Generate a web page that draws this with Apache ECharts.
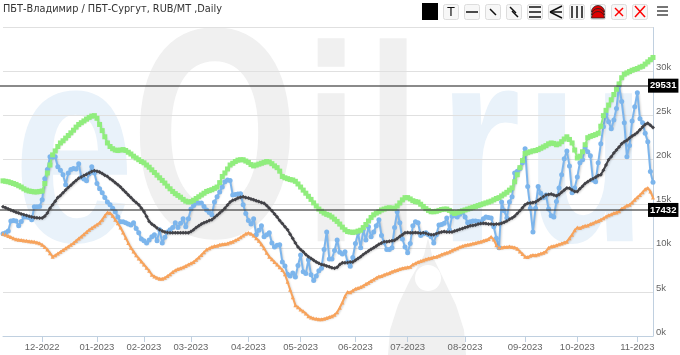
<!DOCTYPE html>
<html>
<head>
<meta charset="utf-8">
<style>
  html, body { margin: 0; padding: 0; background: #fff; }
  #main { width: 680px; height: 355px; }
</style>
<script src="https://cdn.jsdelivr.net/npm/echarts@6/dist/echarts.min.js"></script>
</head>
<body>
<div id="main"></div>
<script>
// index of each month tick along the trading days
const tickIndex = [15, 36, 54, 72, 94, 114, 135, 155, 177, 200, 220, 243];
const tickLabels = ["12-2022", "01-2023", "02-2023", "03-2023", "04-2023", "05-2023", "06-2023", "07-2023", "08-2023", "09-2023", "10-2023", "11-2023"];

const spread = [
  11600,11700,11900,13050,13100,13050,12500,13000,13500,13500,
  13450,13200,14660,14650,14700,15450,17850,18900,20350,20300,
  20350,19200,18800,18300,17150,18500,18900,19000,18950,19550,
  18000,17800,17600,18400,19200,18500,17300,16700,16250,15700,
  15200,14900,14500,14100,13500,12950,12950,12850,12700,12600,
  12850,12200,11700,11000,10800,10550,10900,11250,11500,10800,
  12050,10550,11200,11800,12050,12300,12850,12300,12800,13300,
  12400,13300,14400,14800,15100,15100,15100,14700,14300,14000,
  13750,15200,15800,16350,16900,17500,17700,17650,16000,16050,
  16100,16150,14900,13900,13100,12700,13300,11500,12000,12500,
  11250,11500,11700,10550,10100,10300,10350,8400,7950,7000,
  6800,7150,6700,8000,9200,7300,7100,8650,6950,6300,
  6800,7400,7700,9800,11800,8750,8750,9700,10900,9500,
  9300,9550,8400,7900,8900,10500,11700,10000,12050,10900,
  12400,11250,11800,12500,13200,11400,10600,9800,9800,10000,
  12300,14100,12850,11000,10100,9450,10500,12500,12950,12850,
  11400,11600,11700,11500,11250,10550,11500,12600,12650,12800,
  13400,12050,13600,13700,13500,13800,14100,13500,12850,12950,
  13050,13050,13000,12950,13300,13500,13450,13400,12400,11100,
  10000,15200,14200,13400,15200,15800,18500,18700,19000,19650,
  21250,16950,14500,11800,14500,16950,16200,15700,16000,14400,
  13650,13500,15250,16800,18300,20100,21000,19300,16250,16800,
  18050,19650,20000,21350,20900,20450,17700,17500,19650,21800,
  23750,25200,24300,23500,24500,25800,28400,26600,24200,20350,
  21600,24400,26000,27600,24650,24200,23000,22050,18650,17432
];
const average = [
  14660,14550,14420,14300,14180,14050,13950,13850,13750,13680,
  13580,13500,13450,13420,13400,13400,13600,13950,14500,14900,
  15300,15700,15950,16250,16550,16850,17100,17400,17650,17900,
  18050,18200,18350,18500,18650,18750,18700,18600,18450,18250,
  18100,17850,17650,17400,17150,16900,16600,16300,16000,15700,
  15400,15150,14900,14500,14100,13550,13000,12700,12500,12250,
  12050,11900,11800,11750,11700,11700,11700,11700,11700,11700,
  11700,11700,11850,12050,12300,12500,12700,12850,12950,13100,
  13200,13450,13700,13950,14200,14500,14850,15200,15400,15500,
  15650,15750,15800,15700,15650,15550,15450,15350,15250,15150,
  15050,14800,14500,14200,13850,13500,13100,12750,12400,12050,
  11550,11050,10550,10100,9800,9550,9250,9000,8800,8600,
  8400,8250,8100,8050,7950,7850,7750,7700,7800,8100,
  8300,8300,8350,8400,8400,8600,8800,9000,9250,9450,
  9650,9850,10000,10200,10400,10550,10700,10700,10750,10800,
  10850,11050,11300,11500,11700,11750,11700,11700,11750,11700,
  11650,11700,11650,11550,11500,11500,11600,11700,11800,11850,
  11800,11800,11800,11900,12000,12100,12200,12300,12400,12500,
  12550,12600,12700,12750,12800,12750,12700,12700,12650,12700,
  12700,12800,12900,13050,13250,13400,13600,13900,14200,14550,
  14900,15050,15100,15150,15200,15400,15600,15800,16000,16050,
  16100,16000,15900,16050,16300,16550,16800,16750,16550,16400,
  16400,16700,17000,17300,17500,17700,17850,18000,18200,18300,
  18800,19400,20000,20350,20750,21100,21450,21800,22050,22200,
  22450,22700,22850,23100,23400,23700,24000,24150,23900,23650
];
const upper = [
  17600,17550,17500,17400,17300,17200,17050,16900,16700,16550,
  16450,16400,16350,16350,16400,16450,17300,18500,19400,20550,
  21000,21500,21900,22150,22450,22750,23050,23350,23700,24000,
  24200,24400,24600,24800,24950,25000,24700,24000,23300,22600,
  21900,21500,21250,21100,21050,21100,21150,21050,20850,20650,
  20400,20200,20000,19800,19650,19400,19150,18850,18550,18250,
  17950,17650,17350,17000,16700,16400,16150,15950,15750,15500,
  15300,15200,15250,15400,15600,15800,16000,16200,16400,16500,
  16600,16750,16900,17400,18100,18500,18950,19400,19600,19800,
  19950,20000,20000,19850,19700,19450,19300,19400,19500,19600,
  19700,19800,19750,19550,19300,19100,18700,18100,17950,17850,
  17750,17700,17550,17250,16900,16550,16200,15850,15500,15100,
  14750,14400,14150,13950,13800,13700,13500,13250,13000,12700,
  12350,12050,11850,11800,11750,11800,11900,12000,12300,12650,
  13050,13450,13750,13950,14100,14300,14400,14500,14550,14500,
  14500,14750,15100,15450,15700,15700,15550,15350,15250,15200,
  14950,14700,14450,14250,14100,14100,14150,14250,14350,14400,
  14400,14250,14050,13900,14000,14100,14200,14300,14400,14500,
  14600,14700,14800,14900,15000,15100,15200,15300,15450,15600,
  15700,15900,16100,16300,16550,16800,17500,18300,19100,19900,
  20700,20800,20900,21000,21050,21150,21300,21450,21600,21800,
  21900,21850,21700,21800,22050,22350,22600,22300,21900,21100,
  20200,20400,20900,21700,22500,22650,22750,22850,23000,23800,
  25000,25600,26200,26800,27400,28000,28600,29300,29700,29850,
  30000,30150,30250,30350,30500,30600,30850,31100,31350,31600
];
const lower = [
  11600,11480,11350,11220,11080,10980,10930,10880,10830,10800,
  10760,10720,10680,10620,10520,10350,10100,9800,9400,9000,
  9150,9350,9550,9750,9950,10150,10350,10550,10800,11050,
  11300,11550,11800,12050,12250,12450,12650,12850,13200,13650,
  14000,13950,13650,13200,12800,12300,11750,11150,10550,10000,
  9600,9150,8800,8450,8100,7750,7400,6950,6750,6600,
  6500,6500,6600,6800,7000,7250,7450,7600,7700,7800,
  7950,8100,8250,8400,8650,8900,9200,9500,9800,9950,
  10100,10200,10250,10350,10400,10450,10500,10600,10700,10850,
  11000,11200,11400,11600,11700,11600,11400,11100,10800,10400,
  9950,9450,9000,8700,8400,8100,7800,7500,7000,6150,
  5250,4400,3500,3250,3000,2800,2550,2250,2100,2000,
  1950,1900,1900,1950,2050,2150,2250,2400,2700,3200,
  3800,4500,5000,4950,5150,5350,5450,5550,5700,5900,
  6050,6250,6400,6600,6750,6800,6950,7050,7150,7300,
  7400,7500,7600,7700,7750,7800,7850,8100,8250,8400,
  8500,8600,8700,8800,8850,8950,9000,9100,9250,9350,
  9450,9550,9700,9850,9950,10100,10200,10300,10350,10400,
  10500,10550,10650,10700,10800,10900,11000,11250,10950,10300,
  10050,10050,10100,10100,10150,10100,10050,9900,9600,9300,
  9000,8950,9100,9200,9150,9250,9350,9450,9600,10000,
  10150,10200,10300,10400,10500,10600,10700,11100,11500,12000,
  12300,12250,12400,12500,12550,12700,12800,12950,13050,13200,
  13350,13550,13700,13800,13950,14000,14150,14450,14600,14800,
  14900,15150,15450,15750,16000,16300,16650,16800,16400,15700
];

// the two level lines sit where the axis puts these values, their tags read otherwise
const levelValues = [28400, 14300];
const levelLabels = ["29531", "17432"];

const categories = spread.map((v, i) => i);
const font = "Liberation Sans";

// background logo
function mark(text, x, color, size, scale) {
  return {
    type: "text", x: x, y: 304, z: -5, silent: true, scaleX: scale,
    style: { text: text, fill: color, font: "bold " + size + "px 'Liberation Sans'", verticalAlign: "bottom" }
  };
}
const logo = [
  mark("e", 13, "#e9f2fa", 280, 0.78),
  mark("O", 131, "#f0f0f0", 300, 0.72),
  mark("i", 304, "#f0f0f0", 280, 0.7),
  mark("l", 366, "#f0f0f0", 280, 0.7),
  mark("r", 438, "#e9f2fa", 280, 0.76),
  mark("u", 526, "#e9f2fa", 280, 0.7),
  {
    type: "polygon", z: -5, silent: true,
    shape: { points: [[428, 238], [432, 255], [444, 280], [456, 305], [464, 330], [466, 355], [388, 355], [390, 330], [398, 305], [410, 280], [424, 255]] },
    style: { fill: "#f0f0f0" }
  },
  { type: "circle", z: -4, silent: true, shape: { cx: 428, cy: 278, r: 13 }, style: { fill: "#fff" } }
];

// toolbar
const btnLeft = 443, btnStep = 21, btnW = 15, btnTop = 4, btnH = 15;
function seg(x1, y1, x2, y2, color, w) {
  return { type: "line", z: 11, silent: true, shape: { x1, y1, x2, y2 }, style: { stroke: color || "#111", lineWidth: w || 1.5 } };
}
function dome(cx, cy) {
  return {
    type: "sector", z: 11, silent: true,
    shape: { cx: cx, cy: cy, r: 6.5, startAngle: Math.PI, endAngle: 2 * Math.PI },
    style: { fill: "#e00000", stroke: "#222", lineWidth: 0.8 }
  };
}
const toolbar = [
  { type: "rect", z: 10, silent: true, shape: { x: 422, y: 3, width: 16, height: 17 }, style: { fill: "#000" } }
];
for (let i = 0; i < 10; i++) {
  toolbar.push({
    type: "rect", z: 10, silent: true,
    shape: { x: btnLeft + i * btnStep + 0.5, y: btnTop + 0.5, width: btnW, height: btnH, r: 2 },
    style: { fill: "#f7f7f7", stroke: "#ddd", lineWidth: 1 }
  });
}
const ix = (i) => btnLeft + i * btnStep;
toolbar.push(
  { type: "text", z: 11, silent: true, x: ix(0) + 8, y: 12, style: { text: "T", fill: "#111", font: "13px 'Liberation Sans'", align: "center", verticalAlign: "middle" } },
  seg(ix(1) + 2, 12, ix(1) + 14, 12),
  seg(ix(2) + 5, 9, ix(2) + 11, 15),
  seg(ix(3) + 4, 7, ix(3) + 10, 13), seg(ix(3) + 6, 11, ix(3) + 12, 17),
  seg(ix(4) + 2, 7, ix(4) + 14, 7), seg(ix(4) + 2, 12, ix(4) + 14, 12), seg(ix(4) + 2, 17, ix(4) + 14, 17),
  seg(ix(5) + 2, 12, ix(5) + 14, 6), seg(ix(5) + 2, 12, ix(5) + 14, 12), seg(ix(5) + 2, 12, ix(5) + 14, 18),
  seg(ix(6) + 3, 6, ix(6) + 3, 18), seg(ix(6) + 8, 6, ix(6) + 8, 18), seg(ix(6) + 13, 6, ix(6) + 13, 18),
  dome(ix(7) + 8, 12), dome(ix(7) + 8, 15), dome(ix(7) + 8, 18),
  seg(ix(8) + 4, 8, ix(8) + 12, 16, "#f00", 1.5), seg(ix(8) + 12, 8, ix(8) + 4, 16, "#f00", 1.5),
  seg(ix(9) + 3, 6, ix(9) + 13, 17, "#f00", 1.5), seg(ix(9) + 13, 6, ix(9) + 3, 17, "#f00", 1.5),
  seg(657, 7, 668, 7, "#666", 1.8), seg(657, 11, 668, 11, "#666", 1.8), seg(657, 15, 668, 15, "#666", 1.8),
  // level lines run a little past the plot on the left
  seg(0, 86, 3, 86, "rgba(60,60,60,0.6)", 2), seg(0, 210, 3, 210, "rgba(60,60,60,0.6)", 2)
);

function lineSeries(data, color, symbol, size, width) {
  return {
    type: "line",
    data: data,
    symbol: symbol,
    symbolSize: size,
    showAllSymbol: true,
    silent: true,
    lineStyle: { color: color, width: width, shadowColor: "rgba(0,0,0,0.18)", shadowBlur: 2, shadowOffsetX: 1, shadowOffsetY: 1 },
    itemStyle: { color: color }
  };
}

const chart = echarts.init(document.getElementById("main"), null, { renderer: "canvas" });
const series = [
  lineSeries(spread, "#7cb5ec", "circle", 5, 2),
  lineSeries(average, "#434348", "diamond", 4, 2),
  lineSeries(upper, "#90ed7d", "rect", 5, 2),
  lineSeries(lower, "#f7a35c", "triangle", 4, 2)
];
series[3].markLine = {
  silent: true,
  symbol: "none",
  animation: false,
  lineStyle: { color: "rgba(60,60,60,0.6)", width: 2, type: "solid" },
  label: {
    position: "end",
    distance: -5,
    formatter: (p) => levelLabels[p.dataIndex],
    color: "#fff",
    backgroundColor: "#000",
    padding: [2, 2, 2, 2],
    fontFamily: font,
    fontSize: 9.5,
    fontWeight: "bold"
  },
  data: levelValues.map((v) => ({ yAxis: v }))
};

chart.setOption({
  animation: false,
  backgroundColor: "#fff",
  title: {
    text: "ПБТ-Владимир / ПБТ-Сургут, RUB/MT ,Daily",
    left: 3,
    top: 4,
    padding: 0,
    textStyle: { fontFamily: "DejaVu Sans", fontSize: 9.75, fontWeight: "normal", color: "#333" }
  },
  grid: { left: 3, right: 27, top: 27.5, bottom: 19 },
  xAxis: {
    type: "category",
    data: categories,
    boundaryGap: false,
    axisLine: { lineStyle: { color: "#c0d0e0" } },
    axisTick: { alignWithLabel: true, length: 6, interval: (i) => tickIndex.includes(i), lineStyle: { color: "#c0d0e0" } },
    axisLabel: {
      interval: (i) => tickIndex.includes(i),
      formatter: (v, i) => tickLabels[tickIndex.indexOf(i)] || "",
      color: "#666",
      fontFamily: font,
      fontSize: 9.5,
      margin: 6
    },
    splitLine: { show: false }
  },
  yAxis: {
    type: "value",
    position: "right",
    min: 0,
    max: 35000,
    interval: 5000,
    axisLine: { show: true, lineStyle: { color: "#c0d0e0" } },
    axisTick: { show: false },
    axisLabel: {
      formatter: (v) => (v === 35000 ? "" : v / 1000 + "k"),
      color: "#666",
      fontFamily: font,
      fontSize: 9.5,
      margin: 3,
      verticalAlign: "bottom",
      lineHeight: 8
    },
    splitLine: { lineStyle: { color: "#e0e0e0" } }
  },
  graphic: logo.concat(toolbar),
  series: series
});
</script>
</body>
</html>
